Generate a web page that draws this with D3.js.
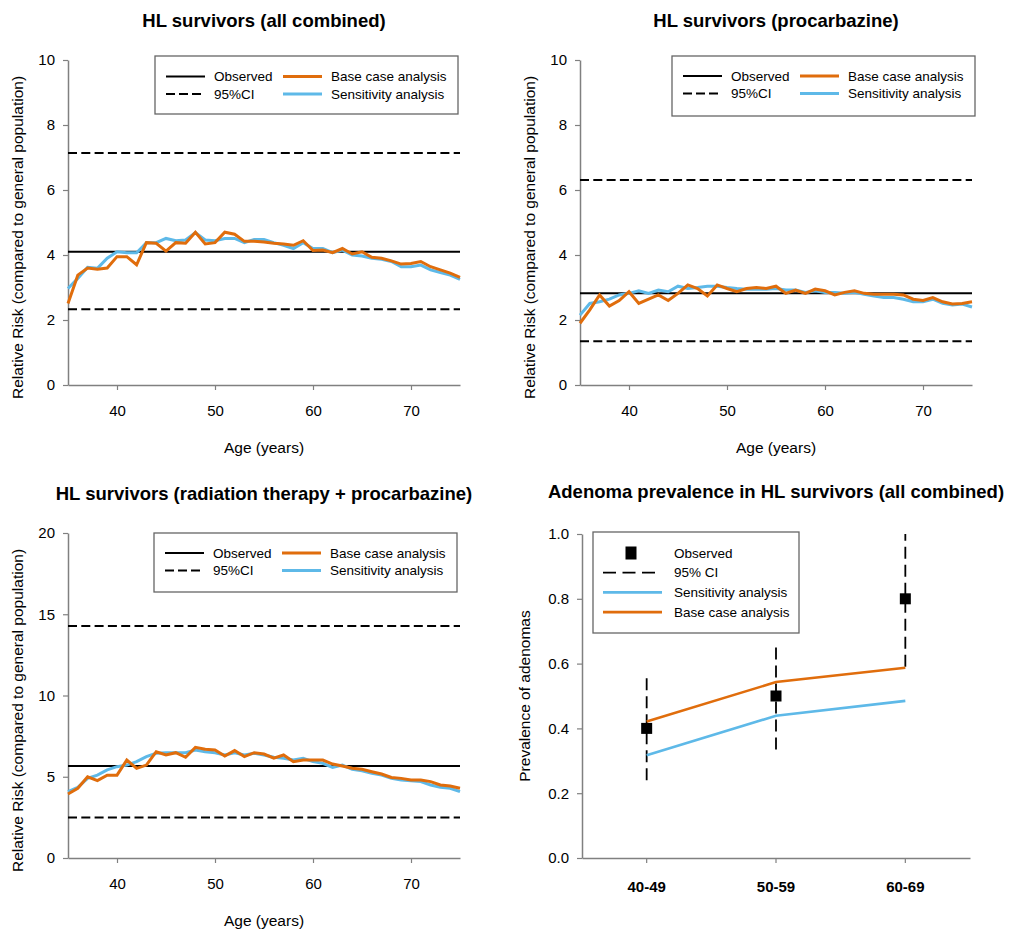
<!DOCTYPE html>
<html>
<head>
<meta charset="utf-8">
<script src="https://cdn.jsdelivr.net/npm/d3@7"></script>
<style>
body { margin: 0; background: #fff; }
svg text { font-family: "Liberation Sans", Arial, sans-serif; fill: #000; }
</style>
</head>
<body>
<svg width="1011" height="931"></svg>
<script>
// ages on the x axis of the three risk panels
const ages = [35,36,37,38,39,40,41,42,43,44,45,46,47,48,49,50,51,52,53,54,55,
  56,57,58,59,60,61,62,63,64,65,66,67,68,69,70,71,72,73,74,75]

// panel 1: all combined
const allObserved = 4.1, allCiLow = 2.33, allCiHigh = 7.14
const allBase = [2.51,3.38,3.6,3.56,3.6,3.95,3.95,3.7,4.38,4.36,4.12,4.38,4.36,4.7,4.34,4.38,
  4.7,4.64,4.42,4.42,4.4,4.36,4.34,4.3,4.44,4.14,4.15,4.07,4.2,4.03,4.1,3.93,3.9,3.82,3.72,
  3.74,3.8,3.64,3.54,3.44,3.31]
const allSens = [2.97,3.28,3.62,3.59,3.9,4.1,4.07,4.07,4.38,4.38,4.51,4.44,4.46,4.69,4.46,4.44,
  4.51,4.51,4.38,4.48,4.48,4.38,4.3,4.2,4.38,4.2,4.2,4.07,4.15,4.0,3.97,3.9,3.87,3.8,3.64,
  3.64,3.69,3.54,3.46,3.38,3.25]

// panel 2: procarbazine
const procObserved = 2.82, procCiLow = 1.35, procCiHigh = 6.31
const procBase = [1.9,2.31,2.77,2.43,2.6,2.87,2.51,2.64,2.77,2.6,2.82,3.08,2.97,2.74,3.08,2.97,
  2.87,2.97,3.0,2.97,3.04,2.82,2.92,2.82,2.95,2.9,2.77,2.85,2.9,2.82,2.79,2.79,2.79,2.77,2.64,
  2.6,2.69,2.56,2.49,2.51,2.56]
const procSens = [2.15,2.51,2.56,2.64,2.77,2.82,2.9,2.82,2.92,2.87,3.04,2.97,3.0,3.04,3.04,3.0,
  2.97,2.95,2.95,2.95,2.97,2.92,2.92,2.85,2.9,2.85,2.85,2.82,2.85,2.79,2.74,2.69,2.69,2.64,2.56,
  2.56,2.64,2.51,2.46,2.49,2.4]

// panel 3: radiation therapy + procarbazine
const rtObserved = 5.66, rtCiLow = 2.5, rtCiHigh = 14.28
const rtBase = [3.94,4.29,5.0,4.76,5.1,5.1,6.03,5.52,5.72,6.54,6.34,6.48,6.2,6.81,6.69,6.65,
  6.28,6.61,6.24,6.48,6.4,6.14,6.34,5.93,6.03,6.03,6.03,5.78,5.66,5.52,5.46,5.31,5.17,4.96,4.9,
  4.8,4.8,4.7,4.49,4.43,4.29]
const rtSens = [4.08,4.35,4.9,5.1,5.42,5.62,5.72,5.93,6.24,6.44,6.48,6.48,6.48,6.65,6.54,6.48,
  6.34,6.48,6.34,6.44,6.34,6.2,6.14,6.03,6.14,5.93,5.83,5.58,5.72,5.46,5.37,5.21,5.1,4.9,4.8,
  4.76,4.7,4.49,4.35,4.29,4.08]

// panel 4: adenoma prevalence
const ageGroups = ['40-49', '50-59', '60-69']
const adenomaObserved = [0.4, 0.5, 0.8]
const adenomaCiLow = [0.24, 0.335, 0.59]
const adenomaCiHigh = [0.563, 0.666, 1.0]
const adenomaBase = [0.421, 0.543, 0.587]
const adenomaSens = [0.317, 0.439, 0.485]

const orange = '#e06d0c', blue = '#5eb9e8', axisGrey = '#808080'
const svg = d3.select('svg')

function styleAxis(g) {
    g.select('.domain').attr('stroke', axisGrey).attr('stroke-width', 1.5)
    g.selectAll('.tick line').attr('stroke', axisGrey).attr('stroke-width', 1.2)
    g.selectAll('.tick text').attr('fill', '#000').style('font-size', '15px')
        .style('font-family', '"Liberation Sans", Arial, sans-serif')
}

function drawRiskPanel(p) {
    let x = d3.scaleLinear().domain([35, 75]).range([p.x0, p.x1])
    let y = d3.scaleLinear().domain([0, p.yMax]).range([p.y1, p.y0])
    let g = svg.append('g')

    g.append('text')
        .attr('x', (p.x0 + p.x1) / 2).attr('y', p.y0 - 33)
        .attr('text-anchor', 'middle')
        .style('font-size', '18.5px').style('font-weight', 'bold')
        .text(p.title)

    g.append('g').attr('transform', `translate(${p.x0},0)`)
        .call(d3.axisLeft(y).tickValues(p.yTicks).tickSize(5).tickPadding(8).tickSizeOuter(0))
        .call(styleAxis)
    g.append('g').attr('transform', `translate(0,${p.y1})`)
        .call(d3.axisBottom(x).tickValues([40, 50, 60, 70]).tickSize(5).tickPadding(15).tickSizeOuter(0))
        .call(styleAxis)

    g.append('text')
        .attr('x', (p.x0 + p.x1) / 2).attr('y', p.y1 + 68)
        .attr('text-anchor', 'middle').style('font-size', '15.5px')
        .text('Age (years)')
    g.append('text')
        .attr('transform', `translate(${p.x0 - 45},${(p.y0 + p.y1) / 2 + 15}) rotate(-90)`)
        .attr('text-anchor', 'middle').style('font-size', '15.5px')
        .text('Relative Risk (compared to general population)')

    // observed level and its confidence interval
    g.append('line').attr('x1', p.x0).attr('x2', p.x1)
        .attr('y1', y(p.observed)).attr('y2', y(p.observed))
        .attr('stroke', '#000').attr('stroke-width', 2)
    ;[p.ciLow, p.ciHigh].forEach(v => {
        g.append('line').attr('x1', p.x0).attr('x2', p.x1)
            .attr('y1', y(v)).attr('y2', y(v))
            .attr('stroke', '#000').attr('stroke-width', 2).attr('stroke-dasharray', '9,4.3')
    })

    let line = d3.line().x((d, i) => x(ages[i])).y(d => y(d))
    g.append('path').datum(p.sens).attr('d', line)
        .attr('fill', 'none').attr('stroke', blue).attr('stroke-width', 3)
    g.append('path').datum(p.base).attr('d', line)
        .attr('fill', 'none').attr('stroke', orange).attr('stroke-width', 3)

    // legend
    let L = p.legend
    let lg = g.append('g').attr('transform', `translate(${L.x},${L.y})`)
    lg.append('rect').attr('width', 303).attr('height', L.h)
        .attr('fill', '#fff').attr('stroke', '#666').attr('stroke-width', 1.3)
    let items = [
        {col: 0, row: 0, label: 'Observed', color: '#000', dash: null, w: 2},
        {col: 0, row: 1, label: '95%CI', color: '#000', dash: '9,4', w: 2},
        {col: 1, row: 0, label: 'Base case analysis', color: orange, dash: null, w: 3},
        {col: 1, row: 1, label: 'Sensitivity analysis', color: blue, dash: null, w: 3}
    ]
    items.forEach(it => {
        let ox = it.col === 0 ? 11 : 128
        let oy = L.r0 + it.row * L.dr
        lg.append('line').attr('x1', ox).attr('x2', ox + 39).attr('y1', oy).attr('y2', oy)
            .attr('stroke', it.color).attr('stroke-width', it.w)
            .attr('stroke-dasharray', it.dash)
        lg.append('text').attr('x', ox + 48).attr('y', oy).attr('dy', '0.35em')
            .style('font-size', '13.5px').text(it.label)
    })
}

drawRiskPanel({
    x0: 68, x1: 460, y0: 60, y1: 385, yMax: 10, yTicks: [0, 2, 4, 6, 8, 10],
    title: 'HL survivors (all combined)',
    observed: allObserved, ciLow: allCiLow, ciHigh: allCiHigh, base: allBase, sens: allSens,
    legend: {x: 155, y: 56, h: 58, r0: 20.5, dr: 17.5}
})
drawRiskPanel({
    x0: 580, x1: 972, y0: 60, y1: 385, yMax: 10, yTicks: [0, 2, 4, 6, 8, 10],
    title: 'HL survivors (procarbazine)',
    observed: procObserved, ciLow: procCiLow, ciHigh: procCiHigh, base: procBase, sens: procSens,
    legend: {x: 672, y: 56, h: 60, r0: 20, dr: 17.5}
})
drawRiskPanel({
    x0: 68, x1: 460, y0: 533, y1: 858, yMax: 20, yTicks: [0, 5, 10, 15, 20],
    title: 'HL survivors (radiation therapy + procarbazine)',
    observed: rtObserved, ciLow: rtCiLow, ciHigh: rtCiHigh, base: rtBase, sens: rtSens,
    legend: {x: 154, y: 533, h: 59, r0: 20, dr: 17.5}
})

// panel 4
function drawAdenomaPanel() {
    let x0 = 582, x1 = 970, y0 = 534, y1 = 858
    let x = d3.scaleBand().domain(ageGroups).range([x0, x1])
    let cx = d => x(d) + x.bandwidth() / 2
    let y = d3.scaleLinear().domain([0, 1]).range([y1, y0])
    let g = svg.append('g')

    g.append('text')
        .attr('x', (x0 + x1) / 2).attr('y', y0 - 36)
        .attr('text-anchor', 'middle')
        .style('font-size', '18.5px').style('font-weight', 'bold')
        .text('Adenoma prevalence in HL survivors (all combined)')

    g.append('g').attr('transform', `translate(${x0},0)`)
        .call(d3.axisLeft(y).tickValues([0, 0.2, 0.4, 0.6, 0.8, 1.0]).tickFormat(d3.format('.1f'))
            .tickSize(5).tickPadding(8).tickSizeOuter(0))
        .call(styleAxis)
    g.append('g').attr('transform', `translate(0,${y1})`)
        .call(d3.axisBottom(x).tickSize(5).tickPadding(18).tickSizeOuter(0))
        .call(styleAxis)
        .call(a => a.selectAll('.tick text').style('font-weight', 'bold'))

    g.append('text')
        .attr('transform', `translate(${x0 - 52},${(y0 + y1) / 2}) rotate(-90)`)
        .attr('text-anchor', 'middle').style('font-size', '15.5px')
        .text('Prevalence of adenomas')

    // confidence intervals
    g.selectAll('.ci').data(ageGroups).join('line')
        .attr('x1', cx).attr('x2', cx)
        .attr('y1', (d, i) => y(adenomaCiLow[i])).attr('y2', (d, i) => y(adenomaCiHigh[i]))
        .attr('stroke', '#000').attr('stroke-width', 1.8).attr('stroke-dasharray', '12,6')

    let line = d3.line().x((d, i) => cx(ageGroups[i])).y(d => y(d))
    g.append('path').datum(adenomaSens).attr('d', line)
        .attr('fill', 'none').attr('stroke', blue).attr('stroke-width', 2.6)
    g.append('path').datum(adenomaBase).attr('d', line)
        .attr('fill', 'none').attr('stroke', orange).attr('stroke-width', 2.6)

    g.selectAll('.obs').data(ageGroups).join('rect')
        .attr('x', d => cx(d) - 5.5).attr('y', (d, i) => y(adenomaObserved[i]) - 5.5)
        .attr('width', 11).attr('height', 11).attr('fill', '#000')

    // legend
    let lg = g.append('g').attr('transform', 'translate(593,532)')
    lg.append('rect').attr('width', 206).attr('height', 101)
        .attr('fill', '#fff').attr('stroke', '#666').attr('stroke-width', 1.3)
    let rows = [
        {label: 'Observed', kind: 'square'},
        {label: '95% CI', kind: 'dash'},
        {label: 'Sensitivity analysis', kind: 'line', color: blue},
        {label: 'Base case analysis', kind: 'line', color: orange}
    ]
    rows.forEach((r, i) => {
        let oy = 21 + i * 19.7
        if (r.kind === 'square') {
            lg.append('rect').attr('x', 32.5).attr('y', oy - 6.5).attr('width', 11).attr('height', 13).attr('fill', '#000')
        } else if (r.kind === 'dash') {
            lg.append('line').attr('x1', 10).attr('x2', 62).attr('y1', oy).attr('y2', oy)
                .attr('stroke', '#000').attr('stroke-width', 1.8).attr('stroke-dasharray', '13,6.5')
        } else {
            lg.append('line').attr('x1', 10).attr('x2', 69).attr('y1', oy).attr('y2', oy)
                .attr('stroke', r.color).attr('stroke-width', 2.6)
        }
        lg.append('text').attr('x', 81).attr('y', oy).attr('dy', '0.35em')
            .style('font-size', '13.5px').text(r.label)
    })
}
drawAdenomaPanel()
</script>
</body>
</html>
